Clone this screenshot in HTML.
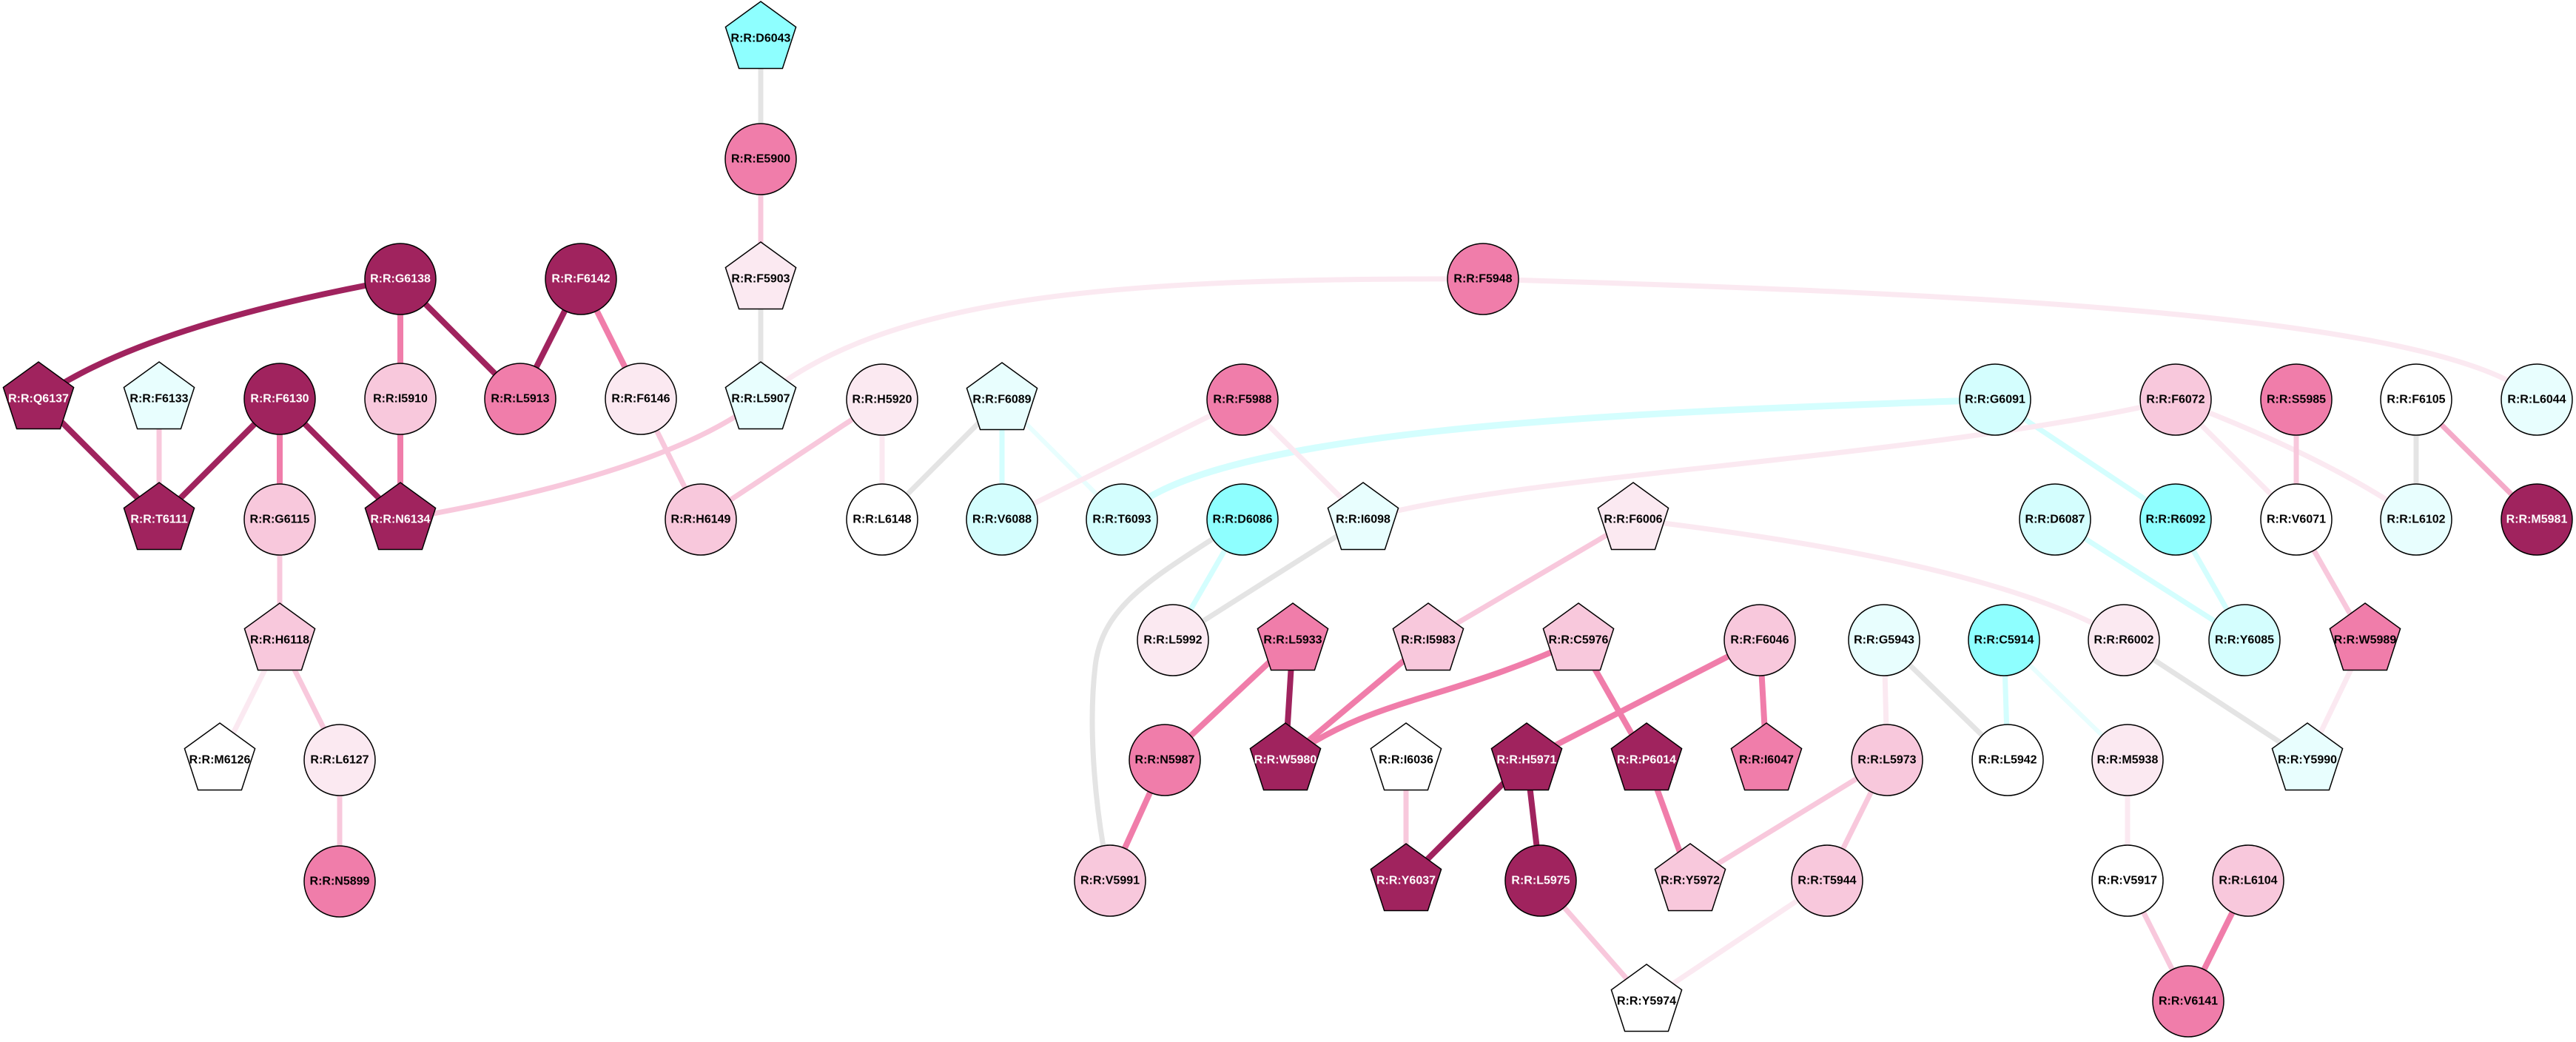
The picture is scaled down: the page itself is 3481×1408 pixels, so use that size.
<!DOCTYPE html>
<html><head><meta charset="utf-8"><style>
html,body{margin:0;padding:0;background:#fff;}
svg{display:block;}
text{font-family:"Liberation Sans",Arial,sans-serif;font-weight:bold;font-size:16px;text-anchor:middle;dominant-baseline:central;}
.w{fill:#fff;}
</style></head><body>
<svg width="3481" height="1408" viewBox="0 0 3481 1408" xmlns="http://www.w3.org/2000/svg">
<defs>
<polygon id="pg" points="0,-50 47.6,-15.5 29.4,40.5 -29.4,40.5 -47.6,-15.5" stroke="#000" stroke-width="1.5"/>
</defs>
<g fill="none" stroke-linecap="butt">
<g stroke="#e4e4e4" stroke-width="7">
<line x1="1028" y1="52" x2="1028" y2="215"/>
<line x1="1028" y1="377" x2="1028" y2="539"/>
<line x1="1354" y1="540" x2="1192" y2="702"/>
<line x1="1842" y1="702" x2="1585" y2="865"/>
<line x1="2546" y1="865" x2="2713" y2="1027"/>
<line x1="2870" y1="865" x2="3118" y2="1027"/>
<line x1="3265" y1="540" x2="3265" y2="702"/>
<path d="M1679,702 C1560,780 1490,815 1480,900 C1470,985 1480,1100 1500,1190"/>
</g>
<g stroke="#d4fefe" stroke-width="7">
<line x1="1354" y1="540" x2="1354" y2="702"/>
<line x1="2696" y1="540" x2="2940" y2="702"/>
<line x1="2777" y1="702" x2="3033" y2="865"/>
<line x1="2940" y1="702" x2="3033" y2="865"/>
<line x1="1679" y1="702" x2="1585" y2="865"/>
<line x1="2708" y1="865" x2="2713" y2="1027"/>
<path d="M1516,702 C1620,570 2300,555 2696,540" stroke-width="9"/>
</g>
<g stroke="#e8fefe" stroke-width="6">
<line x1="1354" y1="540" x2="1516" y2="702"/>
<line x1="2708" y1="865" x2="2875" y2="1027"/>
</g>
<g stroke="#fbe9f1" stroke-width="7">
<line x1="1192" y1="540" x2="1192" y2="702"/>
<line x1="1679" y1="540" x2="1354" y2="702"/>
<line x1="1679" y1="540" x2="1842" y2="702"/>
<line x1="378" y1="865" x2="297" y2="1027"/>
<line x1="2469" y1="1190" x2="2225" y2="1353"/>
<line x1="2546" y1="865" x2="2550" y2="1027"/>
<line x1="2875" y1="1027" x2="2875" y2="1190"/>
<line x1="2940" y1="540" x2="3103" y2="702"/>
<line x1="3196" y1="865" x2="3118" y2="1027"/>
<path d="M2940,540 Q3150,620 3265,702"/>
<path d="M1028,539 C1200,400 1500,375 2004,377"/>
<path d="M2004,377 C2600,395 3300,420 3428,540"/>
<path d="M1842,702 C2050,640 2600,620 2940,540"/>
<path d="M2207,702 Q2700,760 2870,865"/>
</g>
<g stroke="#f8c8dc" stroke-width="7">
<line x1="1028" y1="215" x2="1028" y2="377"/>
<line x1="215" y1="539" x2="215" y2="702"/>
<line x1="866" y1="539" x2="947" y2="702"/>
<line x1="1192" y1="540" x2="947" y2="702"/>
<line x1="378" y1="702" x2="378" y2="865"/>
<line x1="378" y1="865" x2="459" y2="1027"/>
<line x1="459" y1="1027" x2="459" y2="1191"/>
<line x1="2207" y1="702" x2="1930" y2="865"/>
<line x1="1900" y1="1027" x2="1900" y2="1190"/>
<line x1="2550" y1="1027" x2="2284" y2="1190"/>
<line x1="2550" y1="1027" x2="2469" y2="1190"/>
<line x1="2082" y1="1190" x2="2225" y2="1353"/>
<line x1="2875" y1="1190" x2="2957" y2="1353"/>
<line x1="3103" y1="540" x2="3103" y2="702"/>
<line x1="3103" y1="702" x2="3196" y2="865"/>
<path d="M541,702 Q900,640 1028,539"/>
</g>
<g stroke="#f4aac8" stroke-width="7">
<line x1="3265" y1="540" x2="3428" y2="702"/>
</g>
<g stroke="#f07daa" stroke-width="8">
<line x1="541" y1="377" x2="541" y2="539"/>
<line x1="785" y1="377" x2="866" y2="539"/>
<line x1="378" y1="539" x2="378" y2="702"/>
<line x1="541" y1="539" x2="541" y2="702"/>
<line x1="1747" y1="865" x2="1574" y2="1027"/>
<line x1="1930" y1="865" x2="1737" y2="1027"/>
<path d="M2133,865 C1950,950 1860,940 1737,1027"/>
<line x1="2133" y1="865" x2="2225" y2="1027"/>
<line x1="2378" y1="865" x2="2063" y2="1027"/>
<line x1="2378" y1="865" x2="2387" y2="1027"/>
<line x1="1574" y1="1027" x2="1500" y2="1190"/>
<line x1="2225" y1="1027" x2="2284" y2="1190"/>
<line x1="3038" y1="1190" x2="2957" y2="1353"/>
</g>
<g stroke="#a0235e" stroke-width="8">
<path d="M541,377 Q192,440 52,539"/>
<line x1="541" y1="377" x2="703" y2="539"/>
<line x1="785" y1="377" x2="703" y2="539"/>
<line x1="52" y1="539" x2="215" y2="702"/>
<line x1="378" y1="539" x2="215" y2="702"/>
<line x1="378" y1="539" x2="541" y2="702"/>
<line x1="1747" y1="865" x2="1737" y2="1027"/>
<line x1="2063" y1="1027" x2="1900" y2="1190"/>
<line x1="2063" y1="1027" x2="2082" y2="1190"/>
</g>
</g>

<g stroke="#000" stroke-width="1.5">
<use href="#pg" x="1028" y="52" fill="#8effff"/>
<circle cx="1028" cy="215" r="48" fill="#f07daa"/>
<use href="#pg" x="1028" y="377" fill="#fbe9f1"/>
<circle cx="541" cy="377" r="48" fill="#a0235e"/>
<circle cx="785" cy="377" r="48" fill="#a0235e"/>
<circle cx="2004" cy="377" r="48" fill="#f07daa"/>
<use href="#pg" x="52" y="539" fill="#a0235e"/>
<use href="#pg" x="215" y="539" fill="#e8fefe"/>
<circle cx="378" cy="539" r="48" fill="#a0235e"/>
<circle cx="541" cy="539" r="48" fill="#f8c8dc"/>
<circle cx="703" cy="539" r="48" fill="#f07daa"/>
<circle cx="866" cy="539" r="48" fill="#fbe9f1"/>
<use href="#pg" x="1028" y="539" fill="#e8fefe"/>
<circle cx="1192" cy="540" r="48" fill="#fbe9f1"/>
<use href="#pg" x="1354" y="540" fill="#e8fefe"/>
<circle cx="1679" cy="540" r="48" fill="#f07daa"/>
<circle cx="2696" cy="540" r="48" fill="#d4fefe"/>
<circle cx="2940" cy="540" r="48" fill="#f8c8dc"/>
<circle cx="3103" cy="540" r="48" fill="#f07daa"/>
<circle cx="3265" cy="540" r="48" fill="#ffffff"/>
<circle cx="3428" cy="540" r="48" fill="#e8fefe"/>
<use href="#pg" x="215" y="702" fill="#a0235e"/>
<circle cx="378" cy="702" r="48" fill="#f8c8dc"/>
<use href="#pg" x="541" y="702" fill="#a0235e"/>
<circle cx="947" cy="702" r="48" fill="#f8c8dc"/>
<circle cx="1192" cy="702" r="48" fill="#ffffff"/>
<circle cx="1354" cy="702" r="48" fill="#d4fefe"/>
<circle cx="1516" cy="702" r="48" fill="#d4fefe"/>
<circle cx="1679" cy="702" r="48" fill="#8effff"/>
<use href="#pg" x="1842" y="702" fill="#e8fefe"/>
<use href="#pg" x="2207" y="702" fill="#fbe9f1"/>
<circle cx="2777" cy="702" r="48" fill="#d4fefe"/>
<circle cx="2940" cy="702" r="48" fill="#8effff"/>
<circle cx="3103" cy="702" r="48" fill="#ffffff"/>
<circle cx="3265" cy="702" r="48" fill="#e8fefe"/>
<circle cx="3428" cy="702" r="48" fill="#a0235e"/>
<use href="#pg" x="378" y="865" fill="#f8c8dc"/>
<circle cx="1585" cy="865" r="48" fill="#fbe9f1"/>
<use href="#pg" x="1747" y="865" fill="#f07daa"/>
<use href="#pg" x="1930" y="865" fill="#f8c8dc"/>
<use href="#pg" x="2133" y="865" fill="#f8c8dc"/>
<circle cx="2378" cy="865" r="48" fill="#f8c8dc"/>
<circle cx="2546" cy="865" r="48" fill="#e8fefe"/>
<circle cx="2708" cy="865" r="48" fill="#8effff"/>
<circle cx="2870" cy="865" r="48" fill="#fbe9f1"/>
<circle cx="3033" cy="865" r="48" fill="#d4fefe"/>
<use href="#pg" x="3196" y="865" fill="#f07daa"/>
<use href="#pg" x="297" y="1027" fill="#ffffff"/>
<circle cx="459" cy="1027" r="48" fill="#fbe9f1"/>
<circle cx="1574" cy="1027" r="48" fill="#f07daa"/>
<use href="#pg" x="1737" y="1027" fill="#a0235e"/>
<use href="#pg" x="1900" y="1027" fill="#ffffff"/>
<use href="#pg" x="2063" y="1027" fill="#a0235e"/>
<use href="#pg" x="2225" y="1027" fill="#a0235e"/>
<use href="#pg" x="2387" y="1027" fill="#f07daa"/>
<circle cx="2550" cy="1027" r="48" fill="#f8c8dc"/>
<circle cx="2713" cy="1027" r="48" fill="#ffffff"/>
<circle cx="2875" cy="1027" r="48" fill="#fbe9f1"/>
<use href="#pg" x="3118" y="1027" fill="#e8fefe"/>
<circle cx="459" cy="1191" r="48" fill="#f07daa"/>
<circle cx="1500" cy="1190" r="48" fill="#f8c8dc"/>
<use href="#pg" x="1900" y="1190" fill="#a0235e"/>
<circle cx="2082" cy="1190" r="48" fill="#a0235e"/>
<use href="#pg" x="2284" y="1190" fill="#f8c8dc"/>
<circle cx="2469" cy="1190" r="48" fill="#f8c8dc"/>
<circle cx="2875" cy="1190" r="48" fill="#ffffff"/>
<circle cx="3038" cy="1190" r="48" fill="#f8c8dc"/>
<use href="#pg" x="2225" y="1353" fill="#ffffff"/>
<circle cx="2957" cy="1353" r="48" fill="#f07daa"/>
</g>

<g>
<text x="1028" y="52">R:R:D6043</text>
<text x="1028" y="215">R:R:E5900</text>
<text x="1028" y="377">R:R:F5903</text>
<text class="w" x="541" y="377">R:R:G6138</text>
<text class="w" x="785" y="377">R:R:F6142</text>
<text x="2004" y="377">R:R:F5948</text>
<text class="w" x="52" y="539">R:R:Q6137</text>
<text x="215" y="539">R:R:F6133</text>
<text class="w" x="378" y="539">R:R:F6130</text>
<text x="541" y="539">R:R:I5910</text>
<text x="703" y="539">R:R:L5913</text>
<text x="866" y="539">R:R:F6146</text>
<text x="1028" y="539">R:R:L5907</text>
<text x="1192" y="540">R:R:H5920</text>
<text x="1354" y="540">R:R:F6089</text>
<text x="1679" y="540">R:R:F5988</text>
<text x="2696" y="540">R:R:G6091</text>
<text x="2940" y="540">R:R:F6072</text>
<text x="3103" y="540">R:R:S5985</text>
<text x="3265" y="540">R:R:F6105</text>
<text x="3428" y="540">R:R:L6044</text>
<text class="w" x="215" y="702">R:R:T6111</text>
<text x="378" y="702">R:R:G6115</text>
<text class="w" x="541" y="702">R:R:N6134</text>
<text x="947" y="702">R:R:H6149</text>
<text x="1192" y="702">R:R:L6148</text>
<text x="1354" y="702">R:R:V6088</text>
<text x="1516" y="702">R:R:T6093</text>
<text x="1679" y="702">R:R:D6086</text>
<text x="1842" y="702">R:R:I6098</text>
<text x="2207" y="702">R:R:F6006</text>
<text x="2777" y="702">R:R:D6087</text>
<text x="2940" y="702">R:R:R6092</text>
<text x="3103" y="702">R:R:V6071</text>
<text x="3265" y="702">R:R:L6102</text>
<text class="w" x="3428" y="702">R:R:M5981</text>
<text x="378" y="865">R:R:H6118</text>
<text x="1585" y="865">R:R:L5992</text>
<text x="1747" y="865">R:R:L5933</text>
<text x="1930" y="865">R:R:I5983</text>
<text x="2133" y="865">R:R:C5976</text>
<text x="2378" y="865">R:R:F6046</text>
<text x="2546" y="865">R:R:G5943</text>
<text x="2708" y="865">R:R:C5914</text>
<text x="2870" y="865">R:R:R6002</text>
<text x="3033" y="865">R:R:Y6085</text>
<text x="3196" y="865">R:R:W5989</text>
<text x="297" y="1027">R:R:M6126</text>
<text x="459" y="1027">R:R:L6127</text>
<text x="1574" y="1027">R:R:N5987</text>
<text class="w" x="1737" y="1027">R:R:W5980</text>
<text x="1900" y="1027">R:R:I6036</text>
<text class="w" x="2063" y="1027">R:R:H5971</text>
<text class="w" x="2225" y="1027">R:R:P6014</text>
<text x="2387" y="1027">R:R:I6047</text>
<text x="2550" y="1027">R:R:L5973</text>
<text x="2713" y="1027">R:R:L5942</text>
<text x="2875" y="1027">R:R:M5938</text>
<text x="3118" y="1027">R:R:Y5990</text>
<text x="459" y="1191">R:R:N5899</text>
<text x="1500" y="1190">R:R:V5991</text>
<text class="w" x="1900" y="1190">R:R:Y6037</text>
<text class="w" x="2082" y="1190">R:R:L5975</text>
<text x="2284" y="1190">R:R:Y5972</text>
<text x="2469" y="1190">R:R:T5944</text>
<text x="2875" y="1190">R:R:V5917</text>
<text x="3038" y="1190">R:R:L6104</text>
<text x="2225" y="1353">R:R:Y5974</text>
<text x="2957" y="1353">R:R:V6141</text>
</g>
</svg>
</body></html>
